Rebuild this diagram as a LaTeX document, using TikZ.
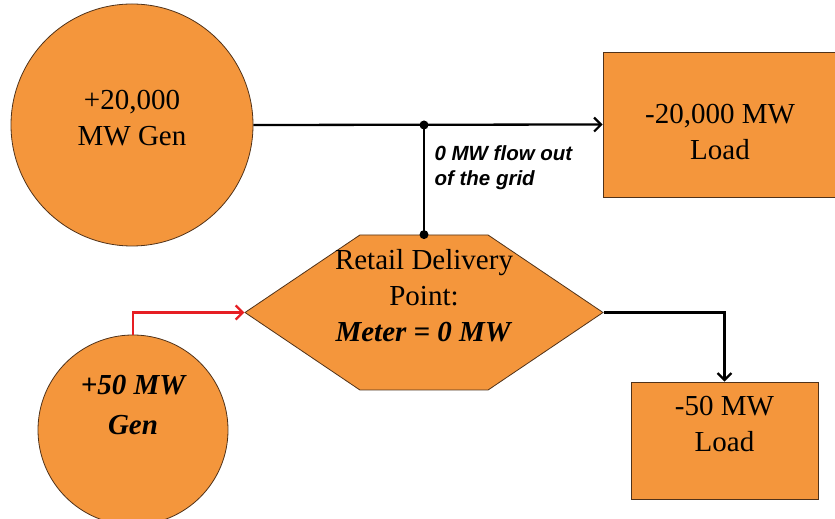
\documentclass[tikz,border=0pt]{standalone}
\usepackage{fontspec}
\setmainfont{Liberation Serif}
\setsansfont{Liberation Sans}
\usetikzlibrary{calc}
\usetikzlibrary{shapes.symbols}
\usetikzlibrary{arrows.meta}

\definecolor{boxorange}{RGB}{244,150,60}
\definecolor{edgebrown}{RGB}{80,50,25}
\definecolor{feedred}{RGB}{230,30,35}

\begin{document}
\begin{tikzpicture}[x=1pt, y=1pt,
		>={Straight Barb[length=7pt,width=14pt,line width=2.2pt]},
		blob/.style={draw=edgebrown, fill=boxorange, line width=0.8pt, inner sep=0pt},
		txt/.style={align=center, font=\fontsize{29}{36}\selectfont},
		wire/.style={line width=2.3pt}]
		\useasboundingbox (0,0) rectangle (835,519);

		% grid side
		\node at (132,394) (gen) [blob, circle, minimum size=242pt] {};
		\node at ($(gen.center) + (0,7)$) (gentext) [txt] {+20,000\\MW Gen};
		\node at (720.5,394.5) (load) [blob, minimum width=235pt, minimum height=145pt] {};
		\node at (720,386.5) (loadtext) [txt] {-20,000 MW\\Load};

		% retail delivery point
		\node at (424,206.5) (hex) [blob, signal, signal to=west and east, signal pointer angle=68,
			minimum width=358pt, minimum height=155pt] {};
		\node at (424,223) (hextext) [txt] {Retail Delivery\\Point:\\\textbf{\textit{Meter = 0 MW}}};

		% customer side
		\node at (133,89) (pv) [blob, circle, minimum size=190pt] {};
		\node at ($(pv.center) + (0,25)$) (pvtext) [txt, font=\fontsize{29}{40}\selectfont\bfseries\itshape] {+50 MW\\Gen};
		\node at (724.5,78.5) (site) [blob, minimum width=187pt, minimum height=117pt] {};
		\node at ($(site.center) + (0,17)$) (sitetext) [txt] {-50 MW\\Load};

		% connections
		\coordinate (j) at (hex.north |- gen.east);
		\draw[wire, ->] (gen.east) -- (load.west);
		\draw[wire] (j) -- (hex.north);
		\fill (j) circle (4.5pt);
		\fill (hex.north) circle (4.5pt);
		\node[right, align=left, font=\sffamily\bfseries\itshape\fontsize{20.5}{25}\selectfont] at (431,351) (flow) {0 MW flow out\\of the grid};
		\draw[wire, feedred, ->] (pv.north) |- (hex.west);
		\draw[wire, ->] (hex.east) -| (site.north);
	\end{tikzpicture}
\end{document}
